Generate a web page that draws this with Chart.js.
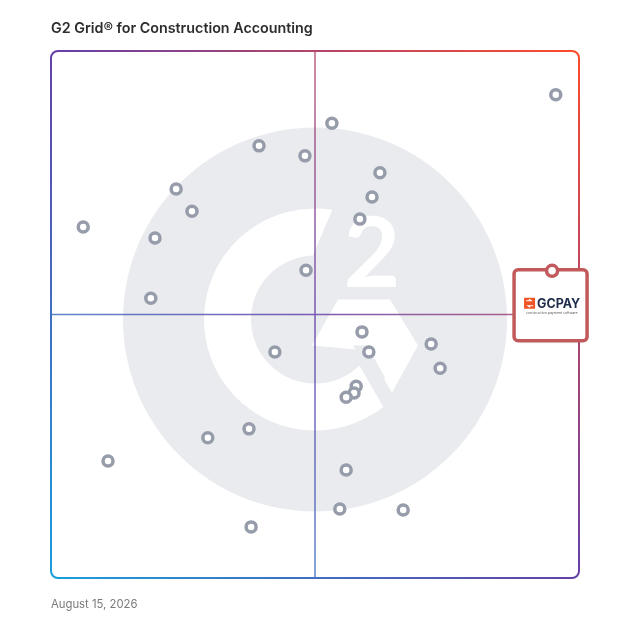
<!DOCTYPE html>
<html>
<head>
<meta charset="utf-8">
<script src="https://cdn.jsdelivr.net/npm/chart.js@4"></script>
<style>
  body { margin: 0; background: #fff; }
  #wrap { position: relative; width: 628px; height: 628px; }
  #grid { position: absolute; left: 0; top: 0; }
  .title {
    position: absolute; left: 51px; top: 19px;
    font: 600 14.3px Inter, sans-serif; color: #2d2d2d;
  }
  .date {
    position: absolute; left: 51px; top: 597px;
    font: 400 11.3px Inter, sans-serif; color: #7a7a7a;
  }
</style>
</head>
<body>
<div id="wrap">
  <canvas id="grid" width="628" height="628"></canvas>
  <div class="title">G2 Grid® for Construction Accounting</div>
  <div class="date">August 15, 2026</div>
</div>
<script>
// satisfaction (x) and market presence (y), 0-100
const satisfactionX = [95.6, 53.2, 39.4, 48.1, 62.3, 23.7, 60.8, 26.7, 58.5, 6.1,
  19.7, 48.3, 18.9, 58.9, 72.0, 42.4, 60.2, 73.7, 57.8, 57.4,
  55.9, 37.5, 29.7, 10.8, 55.9, 54.7, 66.7, 37.9];
const marketPresenceY = [91.7, 86.3, 82.0, 80.1, 76.9, 73.8, 72.3, 69.6, 68.1, 66.6,
  64.5, 58.4, 53.1, 46.7, 44.4, 42.9, 42.9, 39.8, 36.4, 35.1,
  34.3, 28.3, 26.6, 22.2, 20.5, 13.1, 12.9, 9.7];
const highlightName = ["GCPAY"];
const highlightX = [94.9];
const highlightY = [58.3];

function gridGradient(ctx, a) {
  const g = ctx.createLinearGradient(a.left, a.bottom, a.right, a.top);
  g.addColorStop(0, "#1a9edb");
  g.addColorStop(0.5, "#6540a8");
  g.addColorStop(1, "#ff4b2b");
  return g;
}

const backdrop = {
  id: "backdrop",
  beforeDatasetsDraw(chart) {
    const { ctx, chartArea: a, scales } = chart;
    const cx = scales.x.getPixelForValue(50);
    const cy = scales.y.getPixelForValue(50);
    const lx = cx, ly = cy + 5;
    ctx.save();
    // G2 watermark
    ctx.fillStyle = "#e9ebee";
    ctx.beginPath();
    ctx.arc(lx, ly, 192, 0, Math.PI * 2);
    ctx.fill();
    ctx.fillStyle = "#fff";
    const d = Math.PI / 180;
    ctx.beginPath();
    ctx.arc(lx, ly, 111, 52 * d, 279 * d);
    ctx.lineTo(lx + 64 * Math.cos(268 * d), ly + 64 * Math.sin(268 * d));
    ctx.arc(lx, ly, 64, 268 * d, 46 * d, true);
    ctx.closePath();
    ctx.fill();
    ctx.beginPath();
    ctx.moveTo(lx + 23, ly - 20);
    ctx.lineTo(lx + 75, ly - 20);
    ctx.lineTo(lx + 103, ly + 26);
    ctx.lineTo(lx + 77, ly + 73);
    ctx.lineTo(lx + 52, ly + 31);
    ctx.lineTo(lx - 3, ly + 26);
    ctx.closePath();
    ctx.fill();
    ctx.fillStyle = "#e9ebee";
    ctx.beginPath();
    ctx.moveTo(lx + 38, ly + 26);
    ctx.lineTo(lx + 52, ly + 26);
    ctx.lineTo(lx + 70, ly + 58);
    ctx.lineTo(lx + 64, ly + 68);
    ctx.closePath();
    ctx.fill();
    ctx.fillStyle = "#fff";
    ctx.font = "bold 98px Lato, sans-serif";
    ctx.textAlign = "center";
    ctx.textBaseline = "alphabetic";
    ctx.fillText("2", lx + 57, ly - 33);

    // quadrant lines
    const grad = gridGradient(ctx, a);
    ctx.strokeStyle = grad;
    ctx.globalAlpha = 0.85;
    ctx.lineWidth = 1.5;
    ctx.beginPath();
    ctx.moveTo(cx, a.top);
    ctx.lineTo(cx, a.bottom);
    ctx.moveTo(a.left, cy);
    ctx.lineTo(a.right, cy);
    ctx.stroke();
    ctx.globalAlpha = 1;

    // frame
    ctx.lineWidth = 2;
    ctx.beginPath();
    ctx.roundRect(a.left, a.top, a.right - a.left, a.bottom - a.top, 7);
    ctx.stroke();

    // highlighted product card
    const p = chart.getDatasetMeta(1).data[0];
    const bx = p.x - 38, by = p.y - 1, bw = 73, bh = 71;
    ctx.fillStyle = "#fff";
    ctx.strokeStyle = "#c25a5c";
    ctx.lineWidth = 3.5;
    ctx.beginPath();
    ctx.roundRect(bx, by, bw, bh, 4);
    ctx.fill();
    ctx.stroke();
    ctx.fillStyle = "#ee5424";
    ctx.fillRect(bx + 10, by + 28, 11, 11);
    ctx.strokeStyle = "#fff";
    ctx.lineWidth = 1.2;
    ctx.beginPath();
    ctx.moveTo(bx + 12, by + 31); ctx.lineTo(bx + 17, by + 31); ctx.lineTo(bx + 15, by + 29.5);
    ctx.moveTo(bx + 19, by + 36); ctx.lineTo(bx + 14, by + 36); ctx.lineTo(bx + 16, by + 37.5);
    ctx.stroke();
    ctx.fillStyle = "#1d2b4a";
    ctx.font = "bold 12.5px Inter, sans-serif";
    ctx.textAlign = "left";
    ctx.textBaseline = "middle";
    ctx.fillText(highlightName[0], bx + 23, by + 34);
    ctx.fillStyle = "#555";
    ctx.font = "3.5px Inter, sans-serif";
    ctx.fillText("construction payment software", bx + 12, by + 43);
    ctx.restore();
  }
};

new Chart(document.getElementById("grid").getContext("2d"), {
  type: "scatter",
  data: {
    datasets: [
      {
        label: "Products",
        data: satisfactionX.map((x, i) => ({ x: x, y: marketPresenceY[i] })),
        pointRadius: 5,
        pointBorderWidth: 3.5,
        borderColor: "#979cab",
        backgroundColor: "#fff",
        clip: false,
      },
      {
        label: highlightName[0],
        data: highlightX.map((x, i) => ({ x: x, y: highlightY[i] })),
        pointRadius: 5.5,
        pointBorderWidth: 3.5,
        borderColor: "#c25a5c",
        backgroundColor: "#fff",
        clip: false,
      },
    ],
  },
  options: {
    responsive: false,
    animation: false,
    layout: { padding: { left: 51, right: 49, top: 51, bottom: 50 } },
    plugins: {
      legend: { display: false },
      tooltip: { enabled: false },
    },
    scales: {
      x: { type: "linear", min: 0, max: 100, display: false },
      y: { type: "linear", min: 0, max: 100, display: false },
    },
  },
  plugins: [backdrop],
});
</script>
</body>
</html>
